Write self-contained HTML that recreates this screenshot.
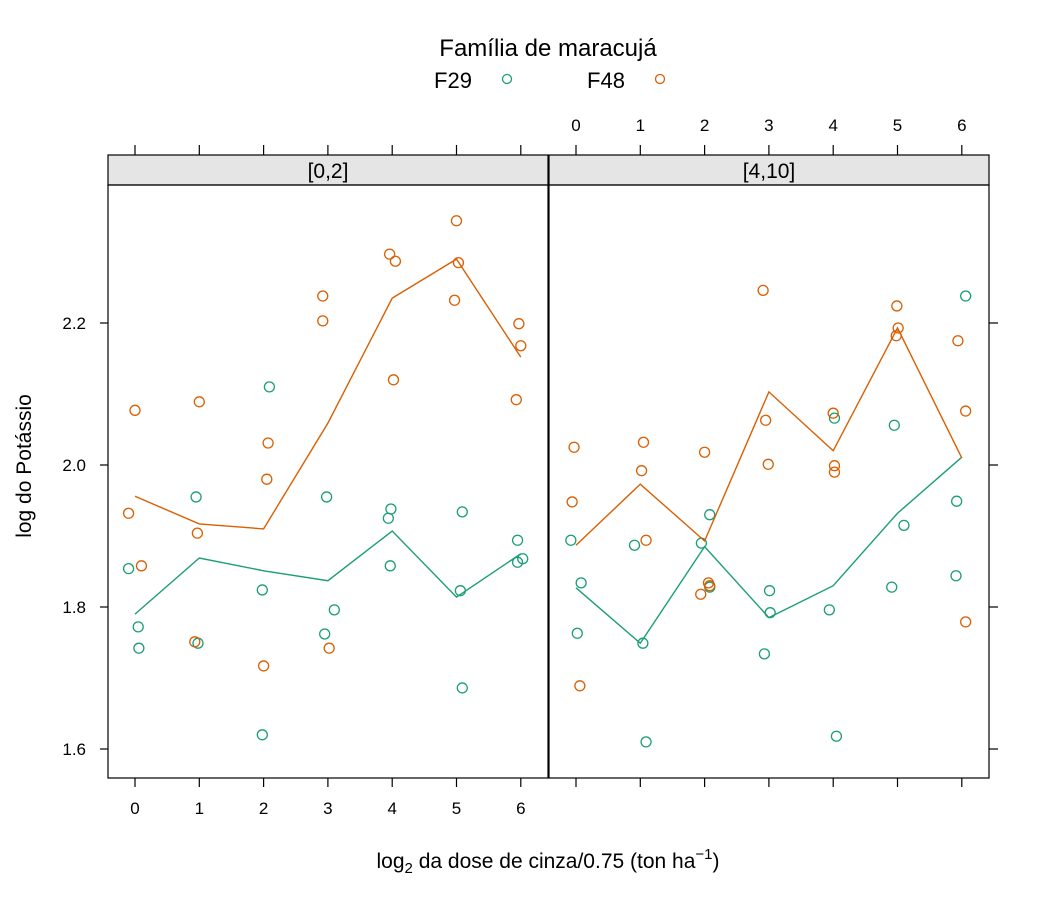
<!DOCTYPE html>
<html><head><meta charset="utf-8"><style>
html,body{margin:0;padding:0;background:#fff;}
svg{display:block;font-family:"Liberation Sans",sans-serif;}
</style></head><body>
<svg id="chart" width="1050" height="900" viewBox="0 0 1050 900" xmlns="http://www.w3.org/2000/svg">
<text x="548" y="56" font-size="24" text-anchor="middle">Família de maracujá</text>
<g><text x="453" y="88" font-size="22" text-anchor="middle">F29</text><circle cx="507" cy="79" r="4.5" fill="none" stroke="#1B9E77" stroke-width="1.3"/></g>
<g><text x="606" y="88" font-size="22" text-anchor="middle">F48</text><circle cx="660" cy="79" r="4.5" fill="none" stroke="#D95F02" stroke-width="1.3"/></g>
<text transform="translate(31,466) rotate(-90)" font-size="21" text-anchor="middle">log do Potássio</text>
<text x="548" y="868" font-size="21" text-anchor="middle">log<tspan font-size="15" dy="5">2</tspan><tspan dy="-5"> da dose de cinza/0.75 (ton ha</tspan><tspan font-size="15" dy="-9">−1</tspan><tspan dy="9">)</tspan></text>
<g id="plot"></g>
</svg>
<script>
const xTicks=[0,1,2,3,4,5,6];
const yTicks=[1.6,1.8,2.0,2.2];
const yTickLabels=["1.6","1.8","2.0","2.2"];
const panels=["[0,2]","[4,10]"];
const p1F48x=[0,-0.1,0.1,1.0,0.97,0.93,2.07,2.05,2.0,2.92,2.92,3.02,3.96,4.05,4.02,5.0,5.03,4.97,5.97,6.0,5.93];
const p1F48y=[2.077,1.932,1.858,2.089,1.904,1.751,2.031,1.980,1.717,2.238,2.203,1.742,2.297,2.287,2.120,2.344,2.285,2.232,2.199,2.168,2.092];
const p1F29x=[-0.1,0.05,0.06,0.95,0.98,2.09,1.98,1.98,2.98,3.1,2.95,3.98,3.94,3.97,5.09,5.06,5.09,5.95,6.03,5.95];
const p1F29y=[1.854,1.772,1.742,1.955,1.749,2.110,1.824,1.620,1.955,1.796,1.762,1.938,1.925,1.858,1.934,1.823,1.686,1.894,1.868,1.863];
const p1F48line=[1.956,1.917,1.910,2.059,2.235,2.290,2.152];
const p1F29line=[1.790,1.869,1.851,1.837,1.907,1.814,1.875];
const p2F48x=[-0.03,-0.06,0.06,1.05,1.02,1.09,2.0,2.06,2.08,1.94,2.91,2.95,2.99,4.0,4.02,4.02,4.99,5.01,4.98,5.94,6.06,6.06];
const p2F48y=[2.025,1.948,1.689,2.032,1.992,1.894,2.018,1.834,1.830,1.818,2.246,2.063,2.001,2.073,1.999,1.990,2.224,2.193,2.182,2.175,2.076,1.779];
const p2F29x=[-0.08,0.08,0.02,0.91,1.04,1.09,2.08,1.95,2.08,3.01,3.02,2.93,4.02,3.94,4.05,4.95,5.1,4.91,6.06,5.92,5.91];
const p2F29y=[1.894,1.834,1.763,1.887,1.749,1.610,1.930,1.890,1.828,1.823,1.792,1.734,2.066,1.796,1.618,2.056,1.915,1.828,2.238,1.949,1.844];
const p2F48line=[1.887,1.973,1.893,2.103,2.020,2.193,2.010];
const p2F29line=[1.827,1.749,1.885,1.785,1.830,1.932,2.011];

const GREEN="#1B9E77",ORANGE="#D95F02";
const NS="http://www.w3.org/2000/svg";
const g=document.getElementById('plot');
const PT=185,PB=778,ST=155;
const pX=[108,549],pW=440;
function xs(i,v){return pX[i]+27+v*64.3;}
function ys(v){return 749-(v-1.6)*710;}
function mk(tag,at,parent){const e=document.createElementNS(NS,tag);for(const k in at)e.setAttribute(k,at[k]);(parent||g).appendChild(e);return e;}
function line(x1,y1,x2,y2,name){const e=mk('line',{x1,y1,x2,y2,stroke:'#000','stroke-width':1.2});

return e;}
function txt(x,y,s,name,anchor){const e=mk('text',{x,y,'font-size':17,'text-anchor':anchor||'middle'});e.textContent=s;

return e;}
const data=[[p1F29x,p1F29y,p1F29line,p1F48x,p1F48y,p1F48line],[p2F29x,p2F29y,p2F29line,p2F48x,p2F48y,p2F48line]];
for(let i=0;i<2;i++){
  const x0=pX[i];
  const strip=mk('rect',{x:x0,y:ST,width:pW,height:PT-ST,fill:'#e5e5e5',stroke:'#000','stroke-width':1.2});
  
  
  txt(x0+pW/2,PT-7,panels[i],'strip-label-'+(i+1)).setAttribute('font-size','21');
  const fr=mk('rect',{x:x0,y:PT,width:pW,height:PB-PT,fill:'none',stroke:'#000','stroke-width':1.2});
  
  
  xTicks.forEach(t=>{
    const x=xs(i,t);
    line(x,PB,x,PB+9,'x-tick-bottom');
    line(x,ST,x,ST-10,'x-tick-top');
    if(i==0)txt(x,PB+36,String(t),'x-tick-label');
    else txt(x,ST-24,String(t),'x-tick-label-top');
  });
  const d=data[i];
  [[d[0],d[1],d[2],GREEN,'f29'],[d[3],d[4],d[5],ORANGE,'f48']].forEach(([xa,ya,la,col,nm])=>{
    const pl=mk('polyline',{points:la.map((v,j)=>xs(i,xTicks[j])+','+ys(v)).join(' '),fill:'none',stroke:col,'stroke-width':1.4});
    
    
    xa.forEach((xv,j)=>{
      const c=mk('circle',{cx:xs(i,xv),cy:ys(ya[j]),r:5,fill:'none',stroke:col,'stroke-width':1.3});
      
      
    });
  });
}
yTicks.forEach((t,k)=>{
  const y=ys(t);
  line(100,y,108,y,'y-tick-left');
  line(989,y,998,y,'y-tick-right');
  txt(86,y+6,yTickLabels[k],'y-tick-label','end');
});
</script>
</body></html>
